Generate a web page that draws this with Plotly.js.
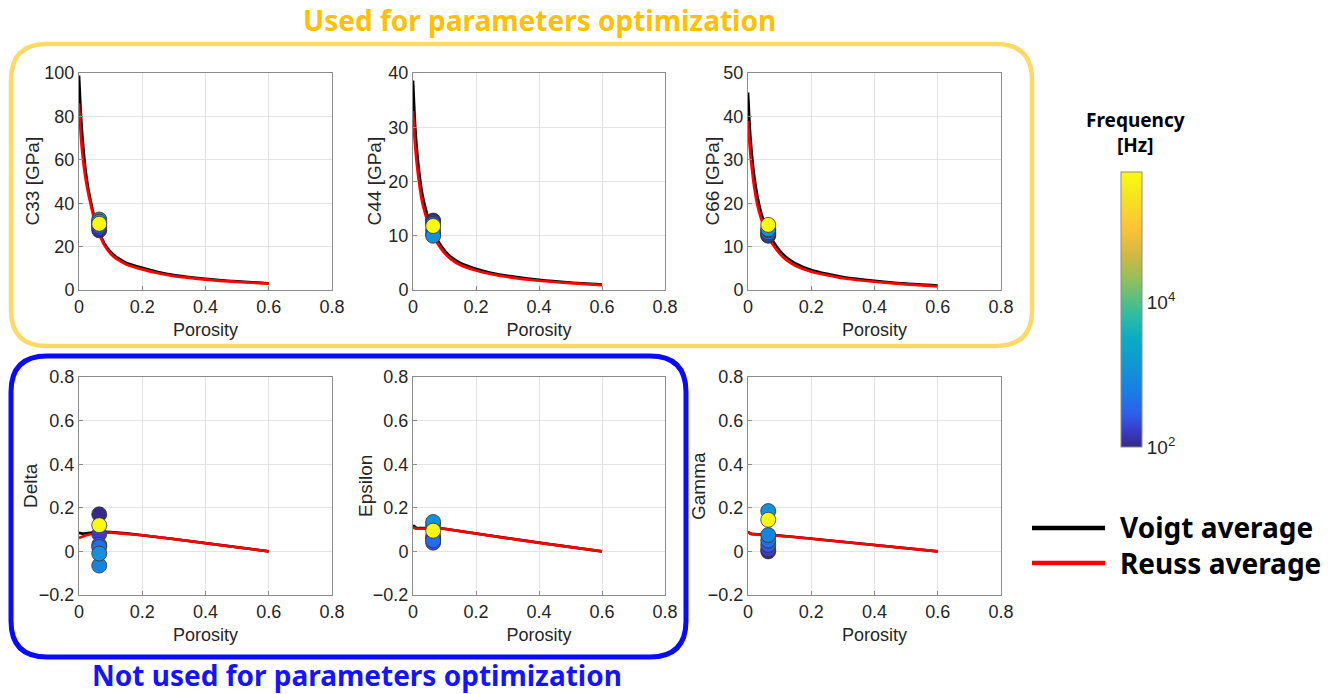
<!DOCTYPE html>
<html>
<head>
<meta charset="utf-8">
<script src="https://cdn.plot.ly/plotly-3.0.1.min.js"></script>
<style>html,body{margin:0;padding:0;background:#fff;}#chart{width:1335px;height:694px;}</style>
</head>
<body>
<div id="chart"></div>
<script>
// ---------------- DATA ----------------
const porosityC = [0,0.005,0.01,0.02,0.03,0.04,0.05,0.06,0.07,0.08,0.1,0.12,0.15,0.2,0.25,0.3,0.4,0.5,0.6];
const c33Voigt = [98.8,83,72,56,46,39,32.5,28,24.5,21.5,17.5,15,12.5,10.2,8.3,6.9,5.2,4.0,3.1];
const c33Reuss = [86,73,64,52,44,37.5,31.5,27.2,23.7,20.7,16.7,14.2,11.8,9.5,7.7,6.4,4.8,3.7,2.9];
const c44Voigt = [38.6,32,27.5,21.5,17.5,15,13,11.5,10.2,9.0,7.3,6.1,5.0,3.9,3.1,2.6,1.85,1.35,1.0];
const c44Reuss = [33,28,24.5,19.5,16,13.8,12,10.6,9.4,8.4,6.8,5.7,4.6,3.6,2.9,2.4,1.7,1.25,0.9];
const c66Voigt = [45.5,38,33,26,21.5,18.2,15.8,14,12.4,11.1,9.1,7.6,6.1,4.6,3.7,3.0,2.1,1.45,1.0];
const c66Reuss = [39,33.5,29.5,23.5,19.5,16.8,14.6,12.9,11.5,10.3,8.4,7.0,5.6,4.2,3.4,2.7,1.9,1.3,0.85];

const porosityA = [0,0.005,0.01,0.02,0.04,0.06,0.08,0.1,0.15,0.2,0.3,0.4,0.5,0.6];
const deltaVoigt = [0.085,0.083,0.082,0.083,0.087,0.089,0.09,0.089,0.083,0.075,0.057,0.038,0.019,0];
const deltaReuss = [0.062,0.065,0.068,0.073,0.08,0.084,0.086,0.086,0.081,0.074,0.056,0.037,0.018,0];
const epsVoigt = [0.12,0.112,0.108,0.107,0.107,0.108,0.107,0.104,0.094,0.083,0.061,0.04,0.019,0];
const epsReuss = [0.11,0.105,0.104,0.104,0.105,0.106,0.106,0.103,0.093,0.082,0.06,0.039,0.019,0];
const gamVoigt = [0.088,0.082,0.08,0.079,0.078,0.076,0.074,0.072,0.066,0.059,0.044,0.029,0.014,0];
const gamReuss = [0.09,0.083,0.08,0.078,0.077,0.075,0.073,0.071,0.065,0.058,0.043,0.028,0.014,0];

// measured samples (same porosity, different frequencies; last = ultrasonic)
const samplePorosity = 0.064;
const freqHz = [100, 170, 250, 400, 700, 1100, 600000];
const c33Meas = [27.5, 28.5, 29.5, 31, 32.5, 31.5, 30.5];
const c44Meas = [12.8, 12.5, 12.2, 11.0, 10.3, 10.0, 11.8];
const c66Meas = [12.5, 12.7, 13.0, 13.3, 13.8, 14.0, 15.0];
const deltaMeas = [0.17, 0.08, 0.03, 0.02, -0.065, -0.01, 0.12];
const epsMeas = [0.06, 0.07, 0.04, 0.05, 0.12, 0.135, 0.095];
const gamMeas = [0.0, 0.01, 0.03, 0.05, 0.075, 0.185, 0.145];

const panelNames = ["C33 [GPa]","C44 [GPa]","C66 [GPa]","Delta","Epsilon","Gamma"];
const xTicks = [0,0.2,0.4,0.6,0.8];

// ---------------- LAYOUT HELPERS ----------------
const W = 1335, H = 694;
const px = v => v / W;
const py = v => 1 - v / H;
const colPix = [[79,332],[413,665],[748,1001]];
const rowPix = [[73,290],[377,595]];
const yRanges = [[0,100],[0,40],[0,50],[-0.2,0.8],[-0.2,0.8],[-0.2,0.8]];
const yDticks = [20,10,10,0.2,0.2,0.2];

const parula = [
  [0.00,'rgb(53,42,135)'],[0.06,'rgb(58,60,200)'],[0.12,'rgb(45,95,235)'],
  [0.20,'rgb(25,125,228)'],[0.30,'rgb(18,150,212)'],[0.40,'rgb(10,174,196)'],
  [0.50,'rgb(60,190,150)'],[0.60,'rgb(140,191,95)'],[0.70,'rgb(210,185,65)'],
  [0.80,'rgb(254,195,55)'],[0.90,'rgb(245,225,35)'],[1.00,'rgb(249,251,14)']
];

const curves = [
  [porosityC,c33Voigt,c33Reuss,c33Meas],
  [porosityC,c44Voigt,c44Reuss,c44Meas],
  [porosityC,c66Voigt,c66Reuss,c66Meas],
  [porosityA,deltaVoigt,deltaReuss,deltaMeas],
  [porosityA,epsVoigt,epsReuss,epsMeas],
  [porosityA,gamVoigt,gamReuss,gamMeas]
];

const traces = [];
const layout = {
  width: W, height: H,
  margin: {l:0,r:0,t:0,b:0},
  paper_bgcolor: '#ffffff', plot_bgcolor: '#ffffff',
  showlegend: false,
  font: {family: 'Liberation Sans, Arial, sans-serif', color: '#262626', size: 18},
  coloraxis: {
    colorscale: parula, cmin: 2, cmax: 5.8,
    colorbar: {
      x: px(1121), xanchor: 'left', y: py((172+447)/2), yanchor: 'middle',
      thickness: 21, thicknessmode: 'pixels', len: 275, lenmode: 'pixels',
      xpad: 0, ypad: 0, outlinecolor: '#8c8c8c', outlinewidth: 1,
      tickvals: [2,4], ticktext: ['10<sup>2</sup>','10<sup>4</sup>'],
      ticks: 'inside', ticklen: 3, tickcolor: '#8c8c8c',
      tickfont: {size: 19, color: '#262626', family: 'Liberation Sans, Arial, sans-serif'}
    }
  },
  shapes: [], annotations: []
};

curves.forEach((c, i) => {
  const n = i + 1;
  const xa = 'x' + (n === 1 ? '' : n), ya = 'y' + (n === 1 ? '' : n);
  const smooth = i < 3 ? {shape:'spline', smoothing:0.6} : {shape:'linear'};
  traces.push({x: c[0], y: c[1], xaxis: xa, yaxis: ya, type: 'scatter', mode: 'lines',
    line: Object.assign({color:'#000000', width:2.7}, smooth), name: 'Voigt average', hoverinfo:'skip'});
  traces.push({x: c[0], y: c[2], xaxis: xa, yaxis: ya, type: 'scatter', mode: 'lines',
    line: Object.assign({color:'#ff0000', width:2.7}, smooth), name: 'Reuss average', hoverinfo:'skip'});
  traces.push({x: c[3].map(() => samplePorosity), y: c[3], xaxis: xa, yaxis: ya, type: 'scatter', mode: 'markers',
    marker: {size: 15, color: freqHz.map(f => Math.log10(f)), coloraxis: 'coloraxis',
      line: {color: '#333333', width: 0.8}}, name: 'Measured'});

  const col = colPix[i % 3], row = rowPix[Math.floor(i / 3)];
  const axCommon = {showline: true, mirror: true, linecolor: '#8c8c8c', linewidth: 1,
    showgrid: true, gridcolor: '#e4e4e4', gridwidth: 1, zeroline: false,
    ticks: 'inside', ticklen: 4, tickcolor: '#8c8c8c',
    tickfont: {size: 18, color: '#262626'}};
  layout['xaxis' + (n === 1 ? '' : n)] = Object.assign({}, axCommon, {
    domain: [px(col[0]), px(col[1])], anchor: ya,
    range: [0, 0.8], tickvals: xTicks, ticktext: xTicks.map(String),
    title: {text: 'Porosity', font: {size: 18, color: '#262626'}, standoff: 7}
  });
  layout['yaxis' + (n === 1 ? '' : n)] = Object.assign({}, axCommon, {
    domain: [py(row[1]), py(row[0])], anchor: xa,
    range: yRanges[i], dtick: yDticks[i], tick0: 0
  });
  // y-axis title as rotated annotation
  const titleX = [32, 374, 712, 30, 365, 698][i];
  layout.annotations.push({text: panelNames[i], xref: 'paper', yref: 'paper',
    x: px(titleX), y: py((row[0]+row[1])/2), textangle: -90, showarrow: false,
    xanchor: 'center', yanchor: 'middle', font: {size: 19, color: '#262626'}});
});

// rounded frames
function roundRect(x0, y0, x1, y1, r) {
  const P = (x, y) => px(x) + ',' + py(y);
  return 'M ' + P(x0 + r, y0) + ' L ' + P(x1 - r, y0) + ' Q ' + P(x1, y0) + ' ' + P(x1, y0 + r) +
    ' L ' + P(x1, y1 - r) + ' Q ' + P(x1, y1) + ' ' + P(x1 - r, y1) +
    ' L ' + P(x0 + r, y1) + ' Q ' + P(x0, y1) + ' ' + P(x0, y1 - r) +
    ' L ' + P(x0, y0 + r) + ' Q ' + P(x0, y0) + ' ' + P(x0 + r, y0) + ' Z';
}
layout.shapes.push({type: 'path', xref: 'paper', yref: 'paper', path: roundRect(11, 44, 1032, 346, 36),
  line: {color: '#ffd966', width: 4.5}});
layout.shapes.push({type: 'path', xref: 'paper', yref: 'paper', path: roundRect(11, 356, 686, 657, 36),
  line: {color: '#0a0aff', width: 5}});

// legend lines
layout.shapes.push({type:'line', xref:'paper', yref:'paper', x0: px(1032), x1: px(1105), y0: py(528), y1: py(528),
  line: {color:'#000000', width: 4.5}});
layout.shapes.push({type:'line', xref:'paper', yref:'paper', x0: px(1032), x1: px(1105), y0: py(563), y1: py(563),
  line: {color:'#ff0000', width: 4.5}});
layout.annotations.push({text: '<b>Voigt average</b>', xref:'paper', yref:'paper', x: px(1118), y: py(527),
  xanchor:'left', yanchor:'middle', showarrow:false, font:{size: 28, color:'#000000', family:'Noto Sans, sans-serif'}});
layout.annotations.push({text: '<b>Reuss average</b>', xref:'paper', yref:'paper', x: px(1118), y: py(563),
  xanchor:'left', yanchor:'middle', showarrow:false, font:{size: 28, color:'#000000', family:'Noto Sans, sans-serif'}});

// titles
layout.annotations.push({text: '<b>Used for parameters optimization</b>', xref:'paper', yref:'paper',
  x: px(539), y: py(20), xanchor:'center', yanchor:'middle', showarrow:false,
  font:{size: 28, color:'#ffc000', family:'Noto Sans, sans-serif'}});
layout.annotations.push({text: '<b>Not used for parameters optimization</b>', xref:'paper', yref:'paper',
  x: px(357), y: py(675), xanchor:'center', yanchor:'middle', showarrow:false,
  font:{size: 28, color:'#1414ff', family:'Noto Sans, sans-serif'}});
// colorbar title
layout.annotations.push({text: '<b>Frequency</b><br><b>[Hz]</b>', xref:'paper', yref:'paper',
  x: px(1135), y: py(132), xanchor:'center', yanchor:'middle', showarrow:false,
  font:{size: 19, color:'#000000', family:'Noto Sans, sans-serif'}});

Plotly.newPlot('chart', traces, layout, {staticPlot: true, displayModeBar: false});
</script>
</body>
</html>
